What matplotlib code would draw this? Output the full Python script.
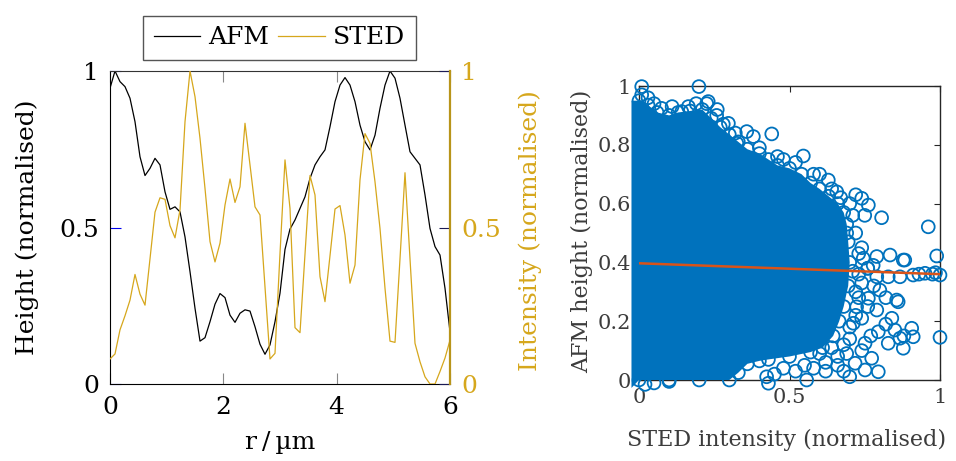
import numpy as np
import matplotlib
matplotlib.use("Agg")
import matplotlib.pyplot as plt
from matplotlib.lines import Line2D

# ---------------- data ----------------
# line profile positions (µm), 69 samples over 0..6
r_um = np.linspace(0.0, 6.0, 69)

afm_height = [
    0.945, 1.0, 0.966, 0.95, 0.913, 0.838, 0.726, 0.666, 0.689, 0.721,
    0.70, 0.614, 0.558, 0.566, 0.55, 0.47, 0.359, 0.242, 0.137, 0.148,
    0.199, 0.255, 0.289, 0.276, 0.22, 0.197, 0.226, 0.237, 0.233, 0.183,
    0.127, 0.095, 0.125, 0.199, 0.29, 0.43, 0.495, 0.524, 0.561, 0.598,
    0.657, 0.70, 0.726, 0.748, 0.822, 0.902, 0.955, 0.979, 0.955, 0.902,
    0.827, 0.774, 0.748, 0.795, 0.881, 0.955, 1.0, 0.977, 0.913, 0.827,
    0.742, 0.721, 0.70, 0.604, 0.497, 0.439, 0.412, 0.306, 0.167,
]

sted_intensity = [
    0.08, 0.096, 0.173, 0.218, 0.268, 0.35, 0.287, 0.252, 0.40, 0.549,
    0.595, 0.59, 0.506, 0.467, 0.556, 0.838, 1.0, 0.918, 0.785, 0.625,
    0.455, 0.39, 0.45, 0.572, 0.655, 0.58, 0.63, 0.833, 0.70, 0.566,
    0.54, 0.31, 0.08, 0.098, 0.417, 0.716, 0.561, 0.18, 0.164, 0.415,
    0.666, 0.604, 0.343, 0.263, 0.41, 0.559, 0.57, 0.476, 0.322, 0.38,
    0.652, 0.80, 0.769, 0.646, 0.497, 0.306, 0.137, 0.133, 0.40, 0.675,
    0.40, 0.13, 0.071, 0.023, 0.0, 0.0, 0.04, 0.083, 0.14,
]

profile_xticks = [0, 2, 4, 6]
profile_yticks = [0, 0.5, 1]
profile_yticklabels = ["0", "0.5", "1"]

# pixel correlation: rim of the densely populated area (pixel centres),
# running from the top-left round to the bottom-left
rim_x = [0.0, 0.03, 0.06, 0.10, 0.13, 0.17, 0.21, 0.24, 0.27, 0.30,
         0.33, 0.36, 0.40, 0.43, 0.46, 0.50, 0.54, 0.57, 0.60, 0.63,
         0.66, 0.68, 0.69, 0.695, 0.70, 0.695, 0.68, 0.665, 0.645, 0.61,
         0.57, 0.50, 0.43, 0.40, 0.36, 0.33, 0.30, 0.20, 0.10, 0.0]
rim_y = [0.95, 0.935, 0.91, 0.90, 0.91, 0.915, 0.92, 0.89, 0.86, 0.835,
         0.81, 0.785, 0.77, 0.75, 0.73, 0.72, 0.70, 0.67, 0.65, 0.625,
         0.60, 0.57, 0.53, 0.47, 0.40, 0.32, 0.25, 0.20, 0.15, 0.11,
         0.095, 0.08, 0.07, 0.065, 0.055, 0.025, 0.0, 0.0, 0.0, 0.0]
# outer corners of the dense area, left of / below the axes
corner_x = [-0.025, -0.025]
corner_y = [-0.027, 0.95]

# individual pixels outside the dense area
sparse_x = [
    0.009, 0.199, 0.009, 0.075, 0.164, 0.23, 0.258, 0.297, 0.358, 0.38,
    0.441, 0.142, 0.325, 0.225, 0.05, 0.11, 0.28, 0.32, 0.40, 0.46,
    0.58, 0.64, 0.67, 0.03, 0.19, 0.26,
    0.546, 0.629, 0.657, 0.74, 0.762, 0.806, 0.961, 0.70, 0.69, 0.48,
    0.52, 0.60, 0.72, 0.75, 0.71, 0.73, 0.72, 0.71,
    0.989, 1.0, 0.975, 0.95, 0.911, 0.878, 0.834, 0.79, 0.867, 0.828,
    0.79, 0.778, 0.745, 0.861, 0.80, 0.762, 0.79, 0.84, 0.74, 0.906,
    0.911, 0.867, 0.828, 0.878, 0.795, 0.773, 0.795, 0.751, 0.70, 0.718,
    0.751, 0.712, 0.723, 1.0, 0.856, 0.883, 0.985, 0.93, 0.76, 0.82,
    0.85, 0.88, 0.82, 0.78, 0.74, 0.77, 0.76,
    0.424, 0.43, 0.557, 0.45, 0.52, 0.58, 0.62, 0.66, 0.68, 0.70,
    0.72, 0.73, 0.74, 0.05, 0.10, 0.02, 0.60, 0.64, 0.66, 0.69,
    0.70, 0.72, 0.73, 0.74, 0.76, 0.68, 0.62, 0.55, 0.48,
]
sparse_y = [
    0.998, 0.998, 0.97, 0.924, 0.93, 0.947, 0.90, 0.873, 0.845, 0.828,
    0.837, 0.913, 0.805, 0.94, 0.94, 0.93, 0.87, 0.84, 0.79, 0.76,
    0.70, 0.65, 0.62, 0.96, 0.94, 0.92,
    0.762, 0.68, 0.64, 0.618, 0.595, 0.552, 0.521, 0.60, 0.50, 0.75,
    0.74, 0.70, 0.63, 0.56, 0.37, 0.43, 0.50, 0.56,
    0.422, 0.357, 0.36, 0.363, 0.357, 0.408, 0.425, 0.42, 0.351, 0.351,
    0.351, 0.39, 0.414, 0.266, 0.306, 0.278, 0.238, 0.21, 0.21, 0.176,
    0.147, 0.142, 0.125, 0.108, 0.164, 0.074, 0.028, 0.034, 0.011, 0.057,
    0.125, 0.193, 0.249, 0.145, 0.272, 0.408, 0.365, 0.36, 0.38, 0.19,
    0.17, 0.15, 0.28, 0.32, 0.10, 0.15, 0.25,
    0.011, -0.011, 0.0, 0.02, 0.03, 0.04, 0.06, 0.08, 0.12, 0.18,
    0.30, 0.36, 0.45, -0.01, -0.005, -0.015, 0.09, 0.11, 0.05, 0.09,
    0.14, 0.22, 0.28, 0.33, 0.38, 0.03, 0.03, 0.05, 0.04,
]

# linear fit of height against intensity
fit_x = [0.0, 1.0]
fit_y = [0.397, 0.360]

corr_xticks = [0, 0.5, 1]
corr_xticklabels = ["0", "0.5", "1"]
corr_yticks = [0, 0.2, 0.4, 0.6, 0.8, 1]
corr_yticklabels = ["0", "0.2", "0.4", "0.6", "0.8", "1"]

# ---------------- style ----------------
SERIF = "DejaVu Serif"
plt.rcParams["font.family"] = SERIF
GOLD = "#d6a71c"
GOLD_DARK = "#b8941a"
BLUE = "#0072BD"
ORANGE = "#D95319"
GREY_TXT = "#3c3c3c"

W, H = 956, 461
fig = plt.figure(figsize=(W / 100, H / 100), dpi=100)


def frac(x0, y0, x1, y1):
    return [x0 / W, 1 - y1 / H, (x1 - x0) / W, (y1 - y0) / H]


# ---------------- left: line profile ----------------
ax = fig.add_axes(frac(110, 71, 450, 384))
ax.plot(r_um, afm_height, color="black", lw=0.9)
ax.set_xlim(0, 6)
ax.set_ylim(0, 1)
ax.set_xticks(profile_xticks)
ax.set_yticks(profile_yticks)
ax.set_yticklabels(profile_yticklabels)
ax.tick_params(axis="x", direction="in", length=7.7, width=0.8, color="#888888",
               top=True, pad=9, labelsize=18)
ax.tick_params(axis="y", direction="in", length=7.7, width=0.8, color="#0000ee",
               right=False, pad=8, labelsize=18)
for s in ("left", "bottom"):
    ax.spines[s].set_color("black")
ax.spines["top"].set_color("#333333")
ax.spines["right"].set_visible(False)
ax.set_xlabel("r\u2009/\u2009µm", fontsize=18)
ax.xaxis.set_label_coords(0.5, -0.15)
ax.xaxis.label.set_va("top")
ax.set_ylabel("Height (normalised)", fontsize=18, va="center")
ax.yaxis.set_label_coords(-0.244, 0.5)

tw = ax.twinx()
tw.plot(r_um, sted_intensity, color=GOLD, lw=0.9)
tw.set_ylim(0, 1)
tw.set_yticks(profile_yticks)
tw.set_yticklabels(profile_yticklabels)
tw.tick_params(axis="y", direction="in", length=7.7, width=0.8, color="#1a1a55",
               labelcolor=GOLD, pad=8, labelsize=18)
tw.spines["right"].set_color(GOLD_DARK)
tw.spines["right"].set_linewidth(1.6)
for s in ("left", "top", "bottom"):
    tw.spines[s].set_visible(False)
tw.set_ylabel("Intensity (normalised)", fontsize=18, color=GOLD, va="center",
              rotation=90)
tw.yaxis.set_label_coords(1.235, 0.49)

handles = [Line2D([], [], color="black", lw=0.9),
           Line2D([], [], color=GOLD, lw=0.9)]
leg = fig.legend(handles, ["AFM", "STED"], loc="center",
                 bbox_to_anchor=(279.5 / W, 1 - 38 / H), ncol=2,
                 prop={"family": SERIF, "size": 18}, frameon=True,
                 fancybox=False, framealpha=1, edgecolor="#555555",
                 handlelength=1.85, handletextpad=0.35, columnspacing=0.35,
                 borderpad=0.42, borderaxespad=0)
leg.get_frame().set_linewidth(1.0)

# ---------------- right: pixel correlation ----------------
bx = fig.add_axes(frac(639, 86, 940, 380))
bx.fill(corner_x + rim_x, corner_y + rim_y, color=BLUE, lw=0, clip_on=False,
        zorder=2)
bx.scatter(rim_x, rim_y, s=85, facecolors="none", edgecolors=BLUE,
           linewidths=1.3, clip_on=False, zorder=3)
bx.scatter(sparse_x, sparse_y, s=85, facecolors="none", edgecolors=BLUE,
           linewidths=1.3, clip_on=False, zorder=3)
bx.plot(fit_x, fit_y, color=ORANGE, lw=1.8, zorder=4)
bx.set_xlim(0, 1)
bx.set_ylim(0, 1)
bx.set_xticks(corr_xticks)
bx.set_xticklabels(corr_xticklabels)
bx.set_yticks(corr_yticks)
bx.set_yticklabels(corr_yticklabels)
bx.tick_params(direction="in", length=4, width=0.8, color="#262626",
               top=True, right=True, labelsize=15, labelcolor=GREY_TXT, pad=6)
for s in bx.spines.values():
    s.set_color("#262626")
    s.set_linewidth(1.0)
    s.set_zorder(1)
bx.set_xlabel("STED intensity (normalised)", fontsize=16, color=GREY_TXT)
bx.xaxis.set_label_coords(0.49, -0.165)
bx.xaxis.label.set_va("top")
bx.set_ylabel("AFM height (normalised)", fontsize=16, color=GREY_TXT, va="center")
bx.yaxis.set_label_coords(-0.19, 0.505)

fig.savefig("out.png", dpi=100)
